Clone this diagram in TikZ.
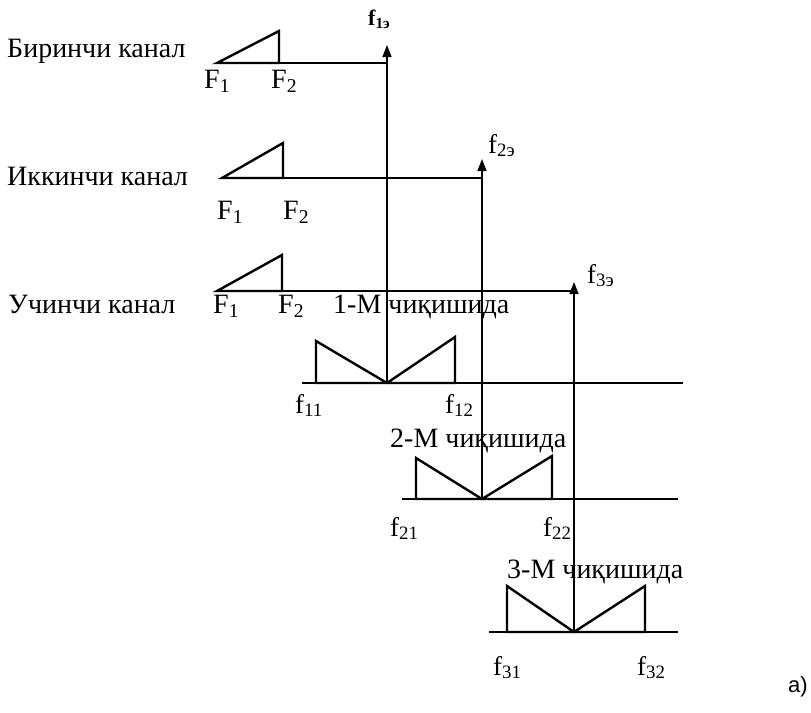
\documentclass[tikz,border=0pt]{standalone}
\usepackage{fontspec}
\setmainfont{Liberation Serif}
\newfontfamily\tagfont{Liberation Sans}
\usetikzlibrary{arrows.meta}

\begin{document}
\begin{tikzpicture}[x=1pt,y=-1pt,
  txt/.style={anchor=base west, inner sep=0pt, font=\fontsize{28}{32}\selectfont},
  flbl/.style={anchor=base west, inner sep=0pt, font=\fontsize{27}{31}\selectfont},
  spec/.style={line width=2.4pt, line join=miter},
  link/.style={line width=1.7pt},
  axis/.style={line width=1.4pt},
  arr/.style={line width=1.5pt, -{Triangle[length=12pt,width=9pt]}}
]
\useasboundingbox (0,0) rectangle (811,712);

% channel names
\node[txt] (ch1) at (7,57) {Биринчи канал};
\node[txt] (ch2) at (7,185) {Иккинчи канал};
\node[txt] (ch3) at (8,313) {Учинчи канал};

% input spectra
\coordinate (a1) at (217,63); \coordinate (b1) at (279,63); \coordinate (t1) at (279,31);
\coordinate (a2) at (222,178); \coordinate (b2) at (283,178); \coordinate (t2) at (283,143);
\coordinate (a3) at (217,291); \coordinate (b3) at (282,291); \coordinate (t3) at (282,255);
\draw[spec] (a1) -- (t1) -- (b1) -- cycle;
\draw[spec] (a2) -- (t2) -- (b2) -- cycle;
\draw[spec] (a3) -- (t3) -- (b3) -- cycle;

\node[txt] (F11) at (204,88) {F\textsubscript{1}};
\node[txt] (F12) at (271,88) {F\textsubscript{2}};
\node[txt] (F21) at (217,219) {F\textsubscript{1}};
\node[txt] (F22) at (283,219) {F\textsubscript{2}};
\node[txt] (F31) at (213,313) {F\textsubscript{1}};
\node[txt] (F32) at (278,313) {F\textsubscript{2}};

% outputs
\node[txt] (out1) at (333,313) {1-М чиқишида};
\node[txt] (out2) at (390,447) {2-М чиқишида};
\node[txt] (out3) at (507,578) {3-М чиқишида};

\coordinate (l1) at (302,383); \coordinate (r1) at (683,383);
\coordinate (l2) at (402,499); \coordinate (r2) at (678,499);
\coordinate (l3) at (489,632); \coordinate (r3) at (678,632);
\draw[axis] (l1) -- (r1);
\draw[axis] (l2) -- (r2);
\draw[axis] (l3) -- (r3);

\coordinate (v1) at (387,383); \coordinate (v2) at (482,499); \coordinate (v3) at (574,632);
\draw[spec] (316,383) -- (316,341) -- (v1) -- (455,337) -- (455,383) -- cycle;
\draw[spec] (416,499) -- (416,458) -- (v2) -- (552,456) -- (552,499) -- cycle;
\draw[spec] (507,632) -- (507,586) -- (v3) -- (645,586) -- (645,632) -- cycle;

\node[flbl] (f11) at (295,413) {f\textsubscript{11}};
\node[flbl] (f12) at (445,413) {f\textsubscript{12}};
\node[flbl] (f21) at (390,536) {f\textsubscript{21}};
\node[flbl] (f22) at (543,536) {f\textsubscript{22}};
\node[flbl] (f31) at (493,675) {f\textsubscript{31}};
\node[flbl] (f32) at (637,675) {f\textsubscript{32}};

% carriers
\coordinate (c1) at (387,63); \coordinate (c2) at (482,178); \coordinate (c3) at (574,291);
\coordinate (e1) at (387,45); \coordinate (e2) at (482,159); \coordinate (e3) at (574,282);
\draw[link] (b1) -- (c1);
\draw[link] (b2) -- (c2);
\draw[link] (b3) -- (c3);
\draw[arr] (v1) -- (e1);
\draw[arr] (v2) -- (e2);
\draw[arr] (v3) -- (e3);

\node[anchor=base west, inner sep=0pt, font=\fontsize{22}{26}\selectfont\bfseries] (fe1) at (368,25) {f\textsubscript{1э}};
\node[flbl] (fe2) at (488,153) {f\textsubscript{2э}};
\node[flbl] (fe3) at (587,283) {f\textsubscript{3э}};

\node[anchor=base west, inner sep=0pt, font=\tagfont\fontsize{22}{26}\selectfont] (tag) at (788,692) {a)};
\end{tikzpicture}
\end{document}
